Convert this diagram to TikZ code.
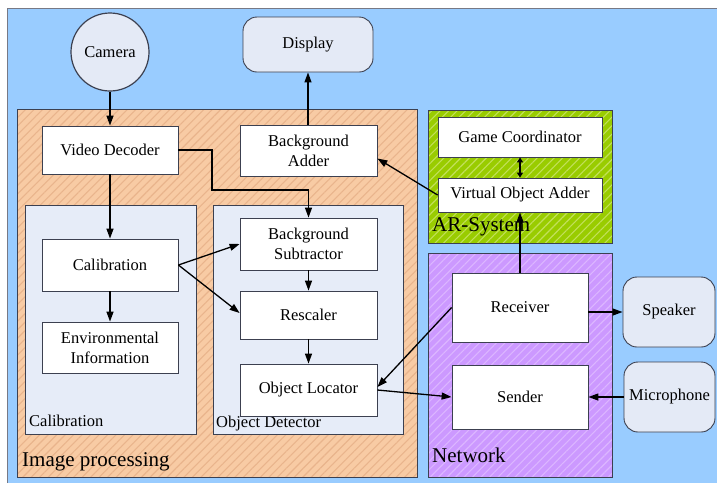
\documentclass[tikz,border=0pt]{standalone}
\usepackage{fontspec}
\setmainfont{Liberation Serif}
\usetikzlibrary{arrows.meta,patterns.meta}
\definecolor{bgblue}{HTML}{99CCFF}
\definecolor{orng}{HTML}{F8CBA4}
\definecolor{orngh}{HTML}{E9B48C}
\definecolor{grn}{HTML}{99CC00}
\definecolor{grnh}{HTML}{C2E05A}
\definecolor{purp}{HTML}{CC99FF}
\definecolor{purph}{HTML}{DCB6FF}
\definecolor{subg}{HTML}{E6ECF8}
\definecolor{edge}{HTML}{3C4050}
\definecolor{dev}{HTML}{E4EAF6}
\tikzset{
  boxfont/.style={font=\fontsize{16.5}{20}\selectfont},
  bigfont/.style={font=\fontsize{21}{24}\selectfont},
  group/.style={draw=edge, line width=0.8pt, inner sep=0pt},
  hatch/.style 2 args={group, preaction={fill=#1},
     pattern={Lines[angle=45,distance=6pt,line width=1.1pt]}, pattern color=#2},
  subgrp/.style={group, fill=subg},
  blk/.style={draw=edge, line width=0.8pt, fill=white, align=center, boxfont, inner sep=0pt},
  device/.style={draw=edge, line width=0.9pt, fill=dev, rounded corners=14pt, align=center, boxfont, inner sep=0pt},
  arr/.style={line width=1.3pt, -{Triangle[length=10pt,width=7pt]}},
  dbl/.style={line width=1.3pt, {Triangle[length=5pt,width=6pt]}-{Triangle[length=5pt,width=6pt]}},
  lbl/.style={anchor=west, inner sep=0pt, boxfont},
  biglbl/.style={anchor=west, inner sep=0pt, bigfont},
}
\begin{document}
\begin{tikzpicture}[x=1pt,y=-1pt]
\useasboundingbox (0,0) rectangle (717,483);
\fill[white] (0,0) rectangle (717,483);
\fill[bgblue] (7,8) rectangle (717,483);
\draw[edge!70, line width=1pt] (7,483) -- (7,8) -- (717,8);

% groups
\node[hatch={orng}{orngh}, minimum width=400pt, minimum height=368pt] (imgp) at (217,293) {};
\node[subgrp, minimum width=171pt, minimum height=229pt] (calg) at (110.5,319.5) {};
\node[subgrp, minimum width=190pt, minimum height=229pt] (odg) at (308,319.5) {};
\node[hatch={grn}{grnh}, minimum width=184pt, minimum height=133pt] (arg) at (520,176.5) {};
\node[hatch={purp}{purph}, minimum width=184pt, minimum height=224pt] (netg) at (520,365) {};

\node[biglbl] (imgplbl) at (22,462) {Image processing};
\node[lbl] (calglbl) at (29,421) {Calibration};
\node[lbl] (odglbl) at (216,424) {Object Detector};
\node[biglbl] (arglbl) at (432,227) {AR-System};
\node[biglbl] (netglbl) at (432,455) {Network};

% devices
\node[draw=edge, line width=1.2pt, fill=dev, circle, minimum size=78pt, inner sep=0pt, boxfont] (cam) at (110,52) {Camera};
\node[device, minimum width=130pt, minimum height=55pt] (disp) at (308,44.5) {Display};
\node[device, minimum width=92pt, minimum height=70pt] (spk) at (669,312) {Speaker};
\node[device, minimum width=91pt, minimum height=70pt] (mic) at (669.5,397) {Microphone};

% blocks
\node[blk, minimum width=136pt, minimum height=48pt] (vd) at (110,150) {Video Decoder};
\node[blk, minimum width=137pt, minimum height=51pt] (ba) at (308.5,150.5) {Background\\Adder};
\node[blk, minimum width=137pt, minimum height=52pt] (bs) at (308.5,244) {Background\\Subtractor};
\node[blk, minimum width=136pt, minimum height=52pt] (cal) at (110,265) {Calibration};
\node[blk, minimum width=136pt, minimum height=51pt] (env) at (110,347.5) {Environmental\\Information};
\node[blk, minimum width=137pt, minimum height=48pt] (resc) at (308.5,315) {Rescaler};
\node[blk, minimum width=137pt, minimum height=52pt] (ol) at (308.5,390) {Object Locator};
\node[blk, minimum width=164pt, minimum height=40pt] (gc) at (520,137) {Game Coordinator};
\node[blk, minimum width=164pt, minimum height=34pt] (voa) at (520,195) {Virtual Object Adder};
\node[blk, minimum width=136pt, minimum height=69pt] (rec) at (520,307.5) {Receiver};
\node[blk, minimum width=136pt, minimum height=64pt] (send) at (520,397) {Sender};

\coordinate (vdbend) at (212,190);

% connectors
\draw[arr] (cam) -- (vd);
\draw[arr] (ba.north -| disp.south) -- (disp.south);
\draw[arr] (vd.east) -| (vdbend) -| (bs.north);
\draw[arr] (vd) -- (cal);
\draw[arr] (cal) -- (env);
\draw[arr] (cal.east) -- (bs.west);
\draw[arr] (cal.east) -- ([yshift=2pt]resc.west);
\draw[arr] (bs) -- (resc);
\draw[arr] (resc) -- (ol);
\draw[arr] (ol.east) -- (send.west);
\draw[arr] (rec.west) -- ([yshift=3pt]ol.east);
\draw[arr] (rec) -- (voa);
\draw[arr] (voa.west) -- ([yshift=-8pt]ba.east);
\draw[dbl] (gc) -- (voa);
\draw[arr] (rec.east |- spk.west) -- (spk.west);
\draw[arr] (mic.west) -- (send.east);
\end{tikzpicture}
\end{document}
